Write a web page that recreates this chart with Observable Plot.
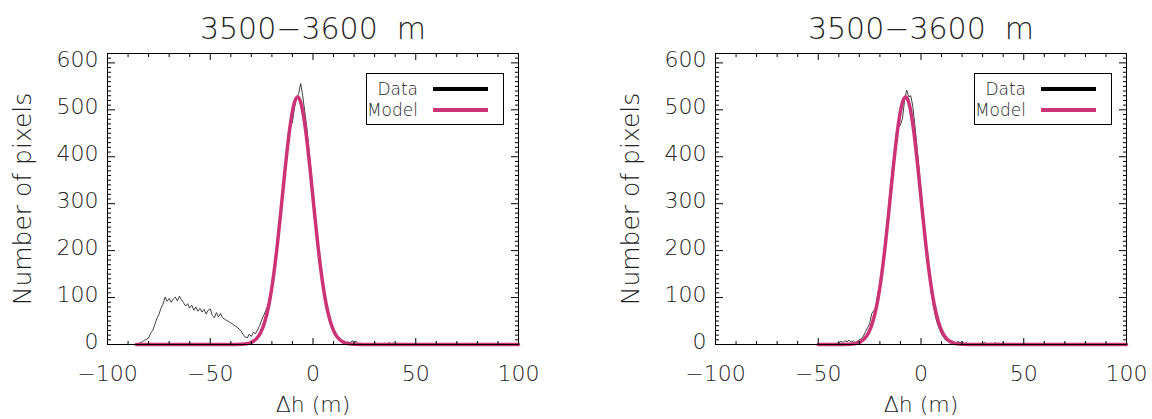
<!DOCTYPE html>
<html><head><meta charset="utf-8">
<script src="https://cdn.jsdelivr.net/npm/d3@7"></script>
<script src="https://cdn.jsdelivr.net/npm/@observablehq/plot@0.6"></script>
<style>
body{margin:0;background:#fff;}
#wrap{position:relative;width:1152px;height:419px;overflow:hidden;font-family:"DejaVu Sans",sans-serif;}
.panel{position:absolute;top:0;width:544px;height:419px;}
.panel svg{overflow:visible;}
.panel svg text{font-weight:200;}
.legend{position:absolute;top:73px;width:136px;height:50px;border:1px solid #000;background:#fff;}
.row{position:absolute;left:0;width:136px;height:20px;}
.row .t{position:absolute;right:85px;top:0;line-height:20px;font-size:17px;color:#222;font-family:"DejaVu Sans",sans-serif;font-weight:200;}
.row .l{position:absolute;left:66px;top:8px;width:55px;height:4px;}
</style>
</head><body>
<div id="wrap"></div>
<script>
// ---- data ----
const panelTitles = ["3500−3600\u00a0 m", "3500−3600\u00a0 m"];
const xLabel = "Δh (m)";
const yLabel = "Number of pixels";
const seriesNames = ["Data", "Model"];
const seriesColors = ["#000000", "#cc3377"];
const xTickValues = [-100, -50, 0, 50, 100];
const xMinorTickValues = [-90, -80, -70, -60, -40, -30, -20, -10, 10, 20, 30, 40, 60, 70, 80, 90];
const yTickValues = [0, 100, 200, 300, 400, 500, 600];
const yMinorTickValues = [10,20,30,40,50,60,70,80,90,110,120,130,140,150,160,170,180,190,210,220,230,240,250,260,270,280,290,310,320,330,340,350,360,370,380,390,410,420,430,440,450,460,470,480,490,510,520,530,540,550,560,570,580,590,610,620];

// left panel: data histogram
const leftDh = [-86,-85,-84,-83,-82,-81,-80,-79,-78,-77,-76,-75,-74,-73,-72,-71,-70,-69,-68,-67,-66,-65,-64,-63,-62,-61,-60,-59,-58,-57,-56,-55,-54,-53,-52,-51,-50,-49,-48,-47,-46,-45,-44,-43,-42,-41,-40,-39,-38,-37,-36,-35,-34,-33,-32,-31,-30,-29,-28,-27,-26,-25,-24,-23,-22,-21,-20,-19,-18,-17,-16,-15,-14,-13,-12,-11,-10,-9,-8,-7,-6,-5,-4,-3,-2,-1,0,1,2,3,4,5,6,7,8,9,10,11,12,13,14,15,16,17,18,19,20,21,22,23,24,25,26,27,28,29,30,31,32,33,34,35,36,37,38,39,40,41,42,100];
const leftCount = [0,2,4,6,9,11,14,24,30,42,55,64,77,86,101,92,98,90,97,101,93,103,95,89,82,87,78,84,73,80,71,77,69,75,65,73,76,62,57,68,59,66,57,54,51,49,46,43,40,37,33,29,21,16,14,22,17,26,23,31,40,52,62,72,84,98,125,158,192,230,272,315,358,398,432,462,474,505,526,534,556,530,496,462,418,372,326,280,236,196,158,122,92,68,50,36,26,18,12,8,5,3,2,6,3,8,4,7,2,3,1,0,0,0,0,0,4,1,0,2,1,3,1,4,2,3,1,3,0,0];

// right panel: data histogram
const rightDh = [-50,-49,-48,-47,-46,-45,-44,-43,-42,-41,-40,-39,-38,-37,-36,-35,-34,-33,-32,-31,-30,-29,-28,-27,-26,-25,-24,-23,-22,-21,-20,-19,-18,-17,-16,-15,-14,-13,-12,-11,-10,-9,-8,-7,-6,-5,-4,-3,-2,-1,0,1,2,3,4,5,6,7,8,9,10,11,12,13,14,15,16,17,18,19,20,21,22,23,24,25,26,27,28,29,30,31,32,33,34,35,36,37,38,39,40,41,42,100];
const rightCount = [0,0,0,1,0,1,0,2,1,3,2,7,4,8,6,9,5,8,4,7,10,12,18,27,36,44,66,72,78,110,126,160,200,240,284,330,372,408,440,462,468,482,520,542,528,530,508,468,424,376,328,282,234,188,146,110,82,60,44,32,22,15,9,7,4,8,5,3,7,4,6,2,4,1,0,0,0,0,0,3,1,4,2,0,3,1,4,2,3,0,4,1,0,0];

// models
const leftModelDh = [-86,-37.5,-35.5,-33.5,-31.5,-29.5,-27.5,-25.5,-23.5,-21.5,-19.5,-17.5,-15.5,-13.5,-11.5,-9.5,-7.5,-5.5,-3.5,-1.5,0.5,2.5,4.5,6.5,8.5,10.5,12.5,14.5,16.5,18.5,20.5,22.5,100];
const leftModelCount = [0,0.1,0.3,0.9,2.4,5.6,12.4,25,48,84,137,207,290,377,454,508,528,508,454,377,290,207,137,84,48,25,12.4,5.6,2.4,0.9,0.3,0.1,0];
const rightModelDh = [-50,-37.5,-35.5,-33.5,-31.5,-29.5,-27.5,-25.5,-23.5,-21.5,-19.5,-17.5,-15.5,-13.5,-11.5,-9.5,-7.5,-5.5,-3.5,-1.5,0.5,2.5,4.5,6.5,8.5,10.5,12.5,14.5,16.5,18.5,20.5,22.5,100];
const rightModelCount = [0,0.1,0.3,0.9,2.4,5.6,12.4,25,48,84,137,207,290,377,454,508,528,508,454,377,290,207,137,84,48,25,12.4,5.6,2.4,0.9,0.3,0.1,0];

// ---- drawing ----
const FONT = "DejaVu Sans, sans-serif";
const TXT = "#222";

function panel(title, dh, count, mdh, mcount) {
  const data = dh.map((d, i) => ({x: d, y: count[i]}));
  const model = mdh.map((d, i) => ({x: d, y: mcount[i]}));
  return Plot.plot({
    width: 544, height: 419,
    marginLeft: 107, marginRight: 26, marginTop: 53, marginBottom: 75,
    x: {domain: [-100, 100]},
    y: {domain: [0, 620]},
    style: {fontFamily: FONT, background: "transparent", overflow: "visible"},
    marks: [
      Plot.line(data, {x: "x", y: "y", stroke: "#2a2a2a", strokeWidth: 0.9}),
      Plot.line(model, {x: "x", y: "y", stroke: seriesColors[1], strokeWidth: 3.5, curve: "monotone-x"}),
      Plot.frame({stroke: "#000", strokeWidth: 1}),
      // x ticks (inward, bottom and top)
      Plot.axisX({anchor: "bottom", ticks: xMinorTickValues, tickSize: -3, text: null, label: null, stroke: "#000"}),
      Plot.axisX({anchor: "bottom", ticks: xTickValues, tickSize: -6, text: null, label: null, stroke: "#000"}),
      Plot.axisX({anchor: "top", ticks: xMinorTickValues, tickSize: -3, text: null, label: null, stroke: "#000"}),
      Plot.axisX({anchor: "top", ticks: xTickValues, tickSize: -6, text: null, label: null, stroke: "#000"}),
      Plot.axisX({anchor: "bottom", ticks: xTickValues, tickSize: 0, tickPadding: 21, fontSize: 22, fill: TXT, label: null}),
      // y ticks (inward, left and right)
      Plot.axisY({anchor: "left", ticks: yMinorTickValues, tickSize: -4, text: null, label: null, stroke: "#000"}),
      Plot.axisY({anchor: "left", ticks: yTickValues, tickSize: -8, text: null, label: null, stroke: "#000"}),
      Plot.axisY({anchor: "right", ticks: yMinorTickValues, tickSize: -4, text: null, label: null, stroke: "#000"}),
      Plot.axisY({anchor: "right", ticks: yTickValues, tickSize: -8, text: null, label: null, stroke: "#000"}),
      Plot.axisY({anchor: "left", ticks: yTickValues, tickSize: 0, tickPadding: 9, fontSize: 22, fill: TXT, label: null, dy: -3}),
      // title and axis labels
      Plot.text([title], {text: d => d, frameAnchor: "top", dy: -24, fontSize: 30, fill: TXT, lineAnchor: "middle"}),
      Plot.text([xLabel], {text: d => d, frameAnchor: "bottom", dy: 60, fontSize: 22, fill: TXT, lineAnchor: "middle"}),
      Plot.text([yLabel], {text: d => d, frameAnchor: "left", dx: -85, rotate: -90, textAnchor: "middle", fontSize: 25, fill: TXT, lineAnchor: "middle"})
    ]
  });
}

function legend(left) {
  const lg = document.createElement("div");
  lg.className = "legend";
  lg.style.left = left + "px";
  seriesNames.forEach((name, i) => {
    const r = document.createElement("div");
    r.className = "row";
    r.style.top = (5 + i * 21) + "px";
    const t = document.createElement("span");
    t.className = "t"; t.textContent = name;
    const l = document.createElement("span");
    l.className = "l"; l.style.background = seriesColors[i];
    r.appendChild(t); r.appendChild(l);
    lg.appendChild(r);
  });
  return lg;
}

const wrap = document.getElementById("wrap");
const configs = [
  {left: 0, title: panelTitles[0], dh: leftDh, count: leftCount, mdh: leftModelDh, mcount: leftModelCount},
  {left: 608, title: panelTitles[1], dh: rightDh, count: rightCount, mdh: rightModelDh, mcount: rightModelCount}
];
configs.forEach(c => {
  const p = document.createElement("div");
  p.className = "panel";
  p.style.left = c.left + "px";
  p.appendChild(panel(c.title, c.dh, c.count, c.mdh, c.mcount));
  p.appendChild(legend(366));
  wrap.appendChild(p);
});
</script>
</body></html>
